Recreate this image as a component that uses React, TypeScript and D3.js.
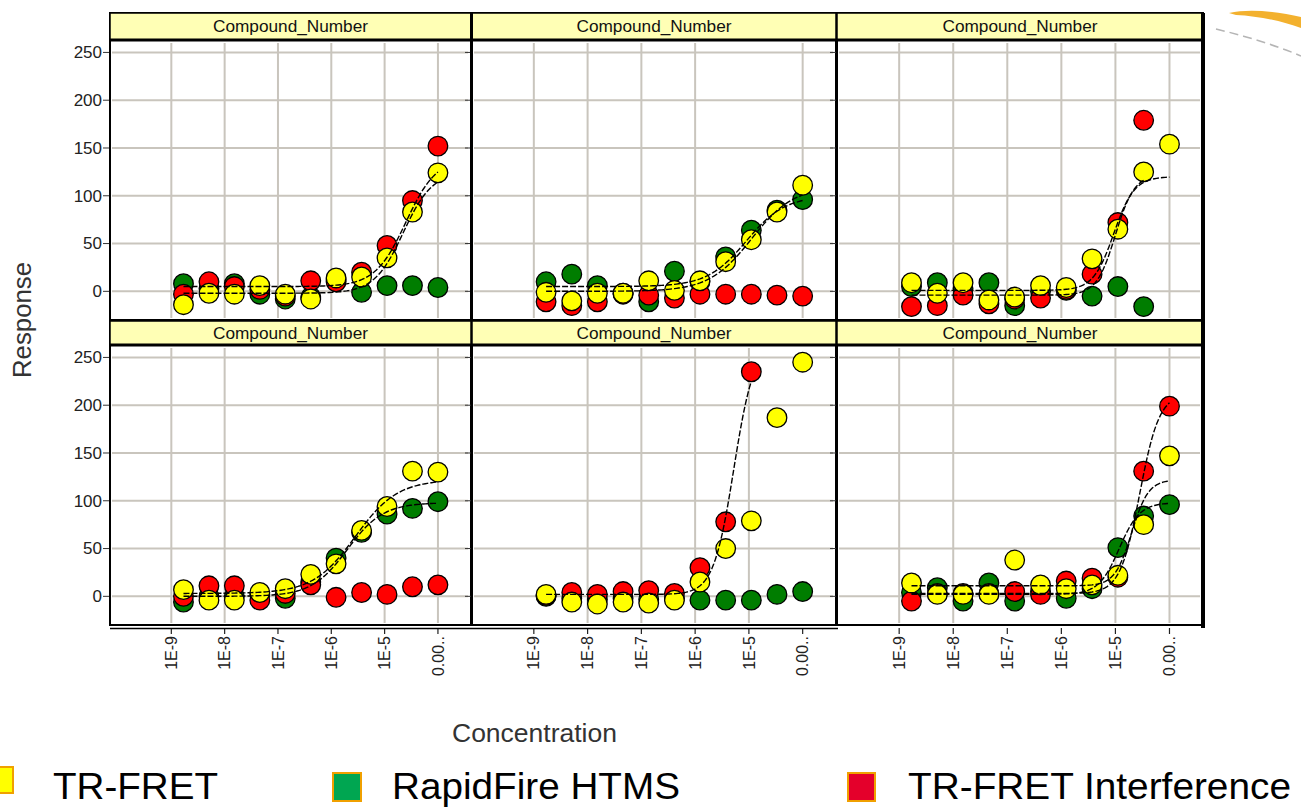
import React from "react";
import * as d3 from "d3";

// ---------- data ----------
const concentrations = [1.69e-9, 5.08e-9, 1.52e-8, 4.57e-8, 1.37e-7, 4.12e-7, 1.23e-6, 3.7e-6, 1.11e-5, 3.33e-5, 1.0e-4];
const xTickValues = [1e-9, 1e-8, 1e-7, 1e-6, 1e-5, 1e-4];
const xTickLabels = ["1E-9", "1E-8", "1E-7", "1E-6", "1E-5", "0.00.."];
const yTickValues = [0, 50, 100, 150, 200, 250];
const panelTitles = ["Compound_Number", "Compound_Number", "Compound_Number", "Compound_Number", "Compound_Number", "Compound_Number"];
const seriesNames = ["TR-FRET", "RapidFire HTMS", "TR-FRET Interference"];

// TR-FRET (yellow), one array per panel
const trFret: (number | null)[][] = [
  [-14, -2, -3, 6, -3, -8, 14, 15, 35, 83, 124],
  [-1, -10, -2, -2, 11, 1, 11, 31, 54, 83, 111],
  [9, -2, 9, -9, -6, 6, 4, 34, 65, 125, 154],
  [7, -4, -4, 4, 8, 23, 34, 69, 94, 131, 130],
  [2, -6, -8, -6, -7, -4, 15, 50, 79, 187, 245],
  [14, 2, 2, 2, 38, 12, 8, 12, 22, 75, 147],
];
// RapidFire HTMS (green)
const rapidFire: (number | null)[][] = [
  [8, 3, 8, -3, -8, -6, 12, -1, 6, 6, 4],
  [10, 18, 6, -2, -11, 21, 10, 36, 64, 85, 96],
  [5, 9, 3, 9, -15, 0, 1, -5, 5, -16, null],
  [-6, 0, 0, 2, -2, 15, 40, 67, 86, 92, 99],
  [0, -2, -3, -2, -3, -2, -4, -4, -4, 2, 5],
  [4, 9, -5, 14, -5, 5, -2, 8, 51, 84, 96],
];
// TR-FRET Interference (red)
const interference: (number | null)[][] = [
  [-3, 10, 5, 2, -5, 11, 10, 20, 48, 95, 152],
  [-11, -15, -11, -3, -4, -7, -3, -3, -3, -4, -5],
  [-16, -15, -4, -13, -8, -7, 2, 18, 72, 179, null],
  [0, 11, 11, -4, 3, 12, -1, 4, 2, 10, 12],
  [1, 4, 2, 5, 6, 3, 30, 78, 235, null, null],
  [-5, 3, 3, 3, 5, 2, 16, 19, 20, 131, 199],
];
// fitted 4PL curves: [bottom, top, logEC50, hill] or null (no fit)
const trFretFits: (number[] | null)[] = [
  [-2, 125, -4.65, 1.6],
  [0, 110, -4.95, 1.1],
  [1, 120, -5.03, 2.3],
  [3, 122, -5.55, 1.1],
  null,
  [11, 122, -4.7, 2.8],
];
const rapidFireFits: (number[] | null)[] = [
  null,
  [5, 100, -5.05, 1.2],
  null,
  [0, 98, -5.7, 1.3],
  null,
  [2, 98, -4.93, 2.3],
];
const interferenceFits: (number[] | null)[] = [
  [5, 140, -4.6, 1.5],
  null,
  [-4, 122, -5.0, 2.5],
  null,
  [2, 265, -5.28, 2.3],
  [3, 212, -4.55, 2.4],
];
// vertical grid lines visible in each panel (as rendered in the reference)
const visibleGrid: number[][] = [
  [1e-9, 1e-8, 1e-7, 1e-6, 1e-5, 1e-4],
  [1e-9, 1e-8, 1e-7, 1e-6, 1e-4],
  [1e-9, 1e-8, 1e-7, 1e-6, 1e-5, 1e-4],
  [1e-9, 1e-8, 1e-5, 1e-4],
  [1e-8, 1e-7, 1e-6, 1e-5],
  [1e-9, 1e-8, 1e-5, 1e-4],
];

// ---------- layout ----------
const W = 1301;
const H = 809;
const rows = [
  { hTop: 13, hBot: 40, pBot: 320 },
  { hTop: 321, hBot: 345, pBot: 625 },
];
const cols = [
  { l: 110, r: 471 },
  { l: 472, r: 836 },
  { l: 837, r: 1203 },
];
const GRID = "#C9C5BD";
const FONT = "'Liberation Sans', Arial, sans-serif";

const fourPL = (p: number[], lx: number) => p[0] + (p[1] - p[0]) / (1 + Math.pow(10, (p[2] - lx) * p[3]));

export default function App() {
  const series = [
    { name: seriesNames[1], data: rapidFire, fits: rapidFireFits, color: "#007D00" },
    { name: seriesNames[2], data: interference, fits: interferenceFits, color: "#FF0000" },
    { name: seriesNames[0], data: trFret, fits: trFretFits, color: "#FFFF00" },
  ];

  const panels: JSX.Element[] = [];
  for (let r = 0; r < 2; r++) {
    for (let c = 0; c < 3; c++) {
      const idx = r * 3 + c;
      const row = rows[r];
      const col = cols[c];
      const x = d3.scaleLog().domain([Math.pow(10, -10.15), Math.pow(10, -3.38)]).range([col.l, col.r]);
      const y = d3.scaleLinear().domain([-30, 263]).range([row.pBot, row.hBot]);
      const clipId = `clip-${idx}`;
      const line = d3
        .line<[number, number]>()
        .x((d) => x(Math.pow(10, d[0])))
        .y((d) => y(d[1]));

      panels.push(
        <g key={idx}>
          <defs>
            <clipPath id={clipId}>
              <rect x={col.l + 1} y={row.hBot + 1} width={col.r - col.l - 2} height={row.pBot - row.hBot - 2} />
            </clipPath>
          </defs>
          <rect x={col.l} y={row.hBot} width={col.r - col.l} height={row.pBot - row.hBot} fill="#fff" />
          {yTickValues.map((v) => (
            <line key={"h" + v} x1={col.l + 2} x2={col.r - 3} y1={y(v)} y2={y(v)} stroke={GRID} strokeWidth={2} />
          ))}
          {visibleGrid[idx].map((v) => (
            <line key={"v" + v} x1={x(v)} x2={x(v)} y1={row.hBot + 3} y2={row.pBot - 2} stroke={GRID} strokeWidth={2} />
          ))}
          {yTickValues.map((v) => (
            <line key={"t" + v} x1={col.l - 7} x2={col.l} y1={y(v)} y2={y(v)} stroke="#333" strokeWidth={1} />
          ))}
          <g clipPath={`url(#${clipId})`}>
            {series.map((s) =>
              s.data[idx].map((v, i) =>
                v === null ? null : (
                  <circle
                    key={s.name + i}
                    cx={x(concentrations[i])}
                    cy={y(v)}
                    r={9.8}
                    fill={s.color}
                    stroke="#000"
                    strokeWidth={1.3}
                  />
                )
              )
            )}
            {series.map((s) => {
              const p = s.fits[idx];
              if (!p) return null;
              const lxs = s.data[idx]
                .map((v, i) => (v === null ? null : Math.log10(concentrations[i])))
                .filter((v) => v !== null) as number[];
              const lo = d3.min(lxs)!;
              const hi = d3.max(lxs)!;
              const pts: [number, number][] = d3.range(0, 121).map((k) => {
                const lx = lo + ((hi - lo) * k) / 120;
                return [lx, fourPL(p, lx)];
              });
              return (
                <path key={"fit" + s.name} d={line(pts) || ""} fill="none" stroke="#000" strokeWidth={1.4} strokeDasharray="6,2" />
              );
            })}
          </g>
          <rect x={col.l} y={row.hTop} width={col.r - col.l} height={row.pBot - row.hTop} fill="none" stroke="#000" strokeWidth={2} />
          <rect x={col.l} y={row.hTop} width={col.r - col.l} height={row.hBot - row.hTop} fill="#FFFFB5" stroke="#000" strokeWidth={1.5} />
          <line x1={col.l} x2={col.r} y1={row.hBot} y2={row.hBot} stroke="#000" strokeWidth={3} />
          <text
            x={(col.l + col.r) / 2}
            y={(row.hTop + row.hBot) / 2}
            dy="0.36em"
            textAnchor="middle"
            fontFamily={FONT}
            fontSize={16}
            textLength={155}
            lengthAdjust="spacingAndGlyphs"
            fill="#111"
          >
            {panelTitles[idx]}
          </text>
          {c === 0 &&
            yTickValues.map((v) => (
              <text key={"yl" + v} x={col.l - 8} y={y(v)} dy="0.35em" textAnchor="end" fontFamily={FONT} fontSize={17} fill="#222">
                {v}
              </text>
            ))}
          {r === 1 &&
            xTickValues.map((v, i) => (
              <g key={"xl" + i}>
                <line x1={x(v)} x2={x(v)} y1={628} y2={634} stroke="#222" strokeWidth={1.2} />
                <text
                  transform={`translate(${x(v)},636) rotate(-90)`}
                  dy="0.35em"
                  textAnchor="end"
                  fontFamily={FONT}
                  fontSize={16}
                  fill="#222"
                >
                  {xTickLabels[i]}
                </text>
              </g>
            ))}
        </g>
      );
    }
  }

  return (
    <svg width={W} height={H} style={{ position: "absolute", left: 0, top: 0, background: "#fff" }}>
      <rect x={0} y={0} width={W} height={H} fill="#fff" />
      {panels}
      <line x1={110} x2={838} y1={628.5} y2={628.5} stroke="#000" strokeWidth={1.5} />
      <line x1={1203} x2={1203} y1={13} y2={628} stroke="#000" strokeWidth={4} />
      <line x1={471.5} x2={471.5} y1={13} y2={320} stroke="#000" strokeWidth={3} />
      <text transform="translate(31,320) rotate(-90)" textAnchor="middle" fontFamily={FONT} fontSize={26} textLength={116} lengthAdjust="spacingAndGlyphs" fill="#333">
        Response
      </text>
      <text x={534.5} y={742} textAnchor="middle" fontFamily={FONT} fontSize={26} textLength={165} lengthAdjust="spacingAndGlyphs" fill="#333">
        Concentration
      </text>
      <rect x={-14} y={767} width={27} height={26} fill="#FFFF00" stroke="#F0A000" strokeWidth={2} />
      <text x={53} y={799} fontFamily={FONT} fontSize={37} textLength={165} lengthAdjust="spacingAndGlyphs" fill="#000">
        {seriesNames[0]}
      </text>
      <rect x={333} y={773} width={28} height={28} fill="#00A651" stroke="#F0A000" strokeWidth={2} />
      <text x={392} y={799} fontFamily={FONT} fontSize={37} textLength={288} lengthAdjust="spacingAndGlyphs" fill="#000">
        {seriesNames[1]}
      </text>
      <rect x={848} y={773} width={27} height={28} fill="#E4002B" stroke="#F0A000" strokeWidth={2} />
      <text x={908} y={799} fontFamily={FONT} fontSize={37} textLength={383} lengthAdjust="spacingAndGlyphs" fill="#000">
        {seriesNames[2]}
      </text>
      <path d="M1229,13 C1250,8 1280,12 1301,17 L1301,28 C1282,21 1258,16 1236,15 Z" fill="#F3B12E" />
      <path d="M1216,29 C1245,36 1275,45 1301,56" fill="none" stroke="#B5B5B5" strokeWidth={1.5} strokeDasharray="9,5" />
    </svg>
  );
}
